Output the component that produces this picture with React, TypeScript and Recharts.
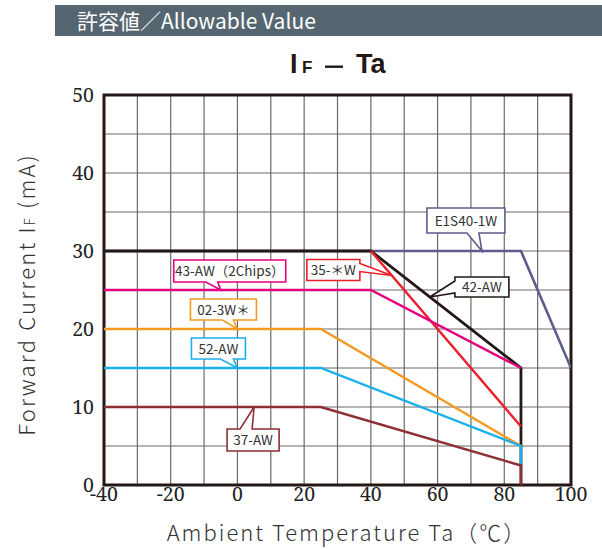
import React from 'react';
import { LineChart, Line, XAxis, YAxis, CartesianGrid, ReferenceArea, ReferenceDot } from 'recharts';

// ---- data ----
const xTicks = [-40, -30, -20, -10, 0, 10, 20, 30, 40, 50, 60, 70, 80, 90, 100];
const yTicks = [0, 5, 10, 15, 20, 25, 30, 35, 40, 45, 50];

const e1s40X = [-40, 85, 100];
const e1s40Y = [30, 30, 15];
const aw42X = [-40, 40, 85, 85];
const aw42Y = [30, 30, 15, 0];
const w35X = [40, 85];
const w35Y = [30, 7.5];
const aw43X = [-40, 40, 85];
const aw43Y = [25, 25, 15];
const w02X = [-40, 25, 85];
const w02Y = [20, 20, 5];
const aw52X = [-40, 25, 85, 85];
const aw52Y = [15, 15, 5, 2.5];
const aw37X = [-40, 25, 85, 85];
const aw37Y = [10, 10, 2.5, 0];

const labelNames = ['43-AW（2Chips）', '35-＊W', 'E1S40-1W', '42-AW', '02-3W＊', '52-AW', '37-AW'];
const labelAnchorX = [-5, 46.3, 73.3, 57.7, 0, 0, 5];
const labelAnchorY = [25, 26.85, 30, 24.1, 20, 15, 10];

const zip = (xs: number[], ys: number[]) => xs.map((x, i) => ({ x, y: ys[i] }));

// ---- styles ----
const C = {
  purple: '#5f5b8c',
  black: '#231815',
  red: '#e8202a',
  magenta: '#e5007f',
  orange: '#f39a21',
  cyan: '#1ab0ea',
  maroon: '#8e2e35',
};

const GOTHIC = "'Noto Sans CJK JP', 'Noto Sans', sans-serif";
const SERIF = "Noto Serif";

type Side = 'top' | 'bottom' | 'left' | 'right';
// box geometry relative to the anchor (tip) in pixels
const calloutLayout: { color: string; dx: number; dy: number; w: number; h: number; side: Side; b1: number; b2: number }[] = [
  { color: C.magenta, dx: -47, dy: -30, w: 112, h: 22, side: 'bottom', b1: -15, b2: -3 },
  { color: C.red, dx: -85, dy: -16, w: 53, h: 21, side: 'right', b1: -12, b2: -4 },
  { color: C.purple, dx: -55, dy: -43, w: 78, h: 25, side: 'bottom', b1: -15, b2: -3 },
  { color: C.black, dx: 25, dy: -20, w: 54, h: 20, side: 'left', b1: -16, b2: -4 },
  { color: C.orange, dx: -47, dy: -30, w: 66, h: 21, side: 'bottom', b1: -15, b2: -4 },
  { color: C.cyan, dx: -46, dy: -30, w: 54, h: 21, side: 'bottom', b1: -17, b2: -4 },
  { color: C.maroon, dx: -27, dy: 22, w: 52, h: 22, side: 'top', b1: -14, b2: -2 },
];

const makeCallout = (idx: number) => (props: any) => {
  const { cx, cy } = props;
  if (cx == null || cy == null) return <g />;
  const L = calloutLayout[idx];
  const x = cx + L.dx, y = cy + L.dy, w = L.w, h = L.h;
  const tip = `${cx},${cy}`;
  let d = `M${x},${y} `;
  if (L.side === 'top') d += `L${cx + L.b1},${y} L${tip} L${cx + L.b2},${y} `;
  d += `L${x + w},${y} `;
  if (L.side === 'right') d += `L${x + w},${cy + L.b1} L${tip} L${x + w},${cy + L.b2} `;
  d += `L${x + w},${y + h} `;
  if (L.side === 'bottom') d += `L${cx + L.b2},${y + h} L${tip} L${cx + L.b1},${y + h} `;
  d += `L${x},${y + h} `;
  if (L.side === 'left') d += `L${x},${cy + L.b2} L${tip} L${x},${cy + L.b1} `;
  d += 'Z';
  return (
    <g>
      <path d={d} fill="#fff" stroke={L.color} strokeWidth={1.6} strokeLinejoin="miter" />
      <text x={x + w / 2} y={y + h / 2 + 5} textAnchor="middle" fontFamily={GOTHIC} fontSize={13.5} fill="#333">
        {labelNames[idx]}
      </text>
    </g>
  );
};

const XTick = (props: any) => {
  const { x, y, payload } = props;
  if (payload.value % 20 !== 0) return <g />;
  return (
    <text x={x} y={y} dy={15.5} textAnchor="middle" fontFamily={SERIF} fontSize={19.5} fill="#222">
      {String(payload.value)}
    </text>
  );
};

const YTick = (props: any) => {
  const { x, y, payload } = props;
  if (payload.value % 10 !== 0) return <g />;
  return (
    <text x={x} y={y} dy={7} textAnchor="end" fontFamily={SERIF} fontSize={19.5} fill="#222">
      {String(payload.value)}
    </text>
  );
};

export default function App() {
  const W = 602, H = 549;
  return (
    <div style={{ position: 'absolute', left: 0, top: 0, width: W, height: H, background: '#fff' }}>
      <svg width={W} height={H} style={{ position: 'absolute', left: 0, top: 0 }}>
        <rect x={55} y={5} width={547} height={31} fill="#556670" />
        <text x={77} y={29} fill="#fff" fontSize={21} fontFamily={GOTHIC}>
          許容値／Allowable Value
        </text>
        <g fill="#231815" fontFamily="'Liberation Sans', Arial, sans-serif" fontWeight="bold">
          <text x={290} y={73} fontSize={27}>I</text>
          <text x={302} y={73} fontSize={17}>F</text>
          <rect x={325} y={65.5} width={18} height={2.4} />
          <text x={356} y={73} fontSize={27}>Ta</text>
        </g>
        <text
          transform="translate(35,294.5) rotate(-90)"
          textAnchor="middle"
          fontSize={22}
          fill="#333"
          fontFamily={GOTHIC}
          fontWeight={300}
          letterSpacing={2.2}
        >
          Forward Current  I<tspan fontSize={14}>F</tspan>  (mA)
        </text>
        <text x={347} y={541} textAnchor="middle" fontSize={22} fill="#333" fontFamily={GOTHIC} fontWeight={300} letterSpacing={2}>
          Ambient Temperature  Ta（℃）
        </text>
      </svg>
      <div style={{ position: 'absolute', left: 0, top: 0 }}>
        <LineChart width={W} height={H} margin={{ top: 95, right: 31, left: 0, bottom: 0 }}>
          <CartesianGrid stroke="#6a6a6a" strokeWidth={1.2} />
          <XAxis
            dataKey="x"
            type="number"
            domain={[-40, 100]}
            ticks={xTicks}
            interval={0}
            height={64}
            tickSize={0}
            tickMargin={0}
            axisLine={false}
            tick={<XTick />}
            allowDataOverflow
          />
          <YAxis
            dataKey="y"
            type="number"
            domain={[0, 50]}
            ticks={yTicks}
            interval={0}
            width={104}
            tickSize={0}
            tickMargin={10}
            axisLine={false}
            tick={<YTick />}
            allowDataOverflow
          />
          <Line data={zip(e1s40X, e1s40Y)} dataKey="y" stroke={C.purple} strokeWidth={2.6} dot={false} isAnimationActive={false} />
          <Line data={zip(aw42X, aw42Y)} dataKey="y" stroke={C.black} strokeWidth={2.8} dot={false} isAnimationActive={false} />
          <Line data={zip(w35X, w35Y)} dataKey="y" stroke={C.red} strokeWidth={2.4} dot={false} isAnimationActive={false} />
          <Line data={zip(aw43X, aw43Y)} dataKey="y" stroke={C.magenta} strokeWidth={2.4} dot={false} isAnimationActive={false} />
          <Line data={zip(w02X, w02Y)} dataKey="y" stroke={C.orange} strokeWidth={2.4} dot={false} isAnimationActive={false} />
          <Line data={zip(aw52X, aw52Y)} dataKey="y" stroke={C.cyan} strokeWidth={2.4} dot={false} isAnimationActive={false} />
          <Line data={zip(aw37X, aw37Y)} dataKey="y" stroke={C.maroon} strokeWidth={2.4} dot={false} isAnimationActive={false} />
          <ReferenceArea x1={-40} x2={100} y1={0} y2={50} fill="none" stroke={C.black} strokeWidth={3} fillOpacity={0} />
          {labelNames.map((n, i) => (
            <ReferenceDot key={n} x={labelAnchorX[i]} y={labelAnchorY[i]} r={0} shape={makeCallout(i)} />
          ))}
        </LineChart>
      </div>
    </div>
  );
}
